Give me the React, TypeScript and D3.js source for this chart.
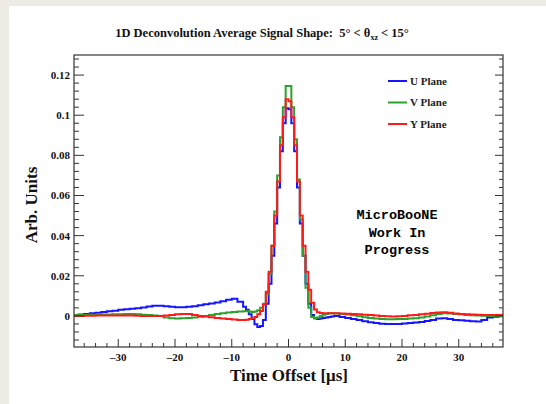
import React from "react";
import * as d3 from "d3";

// ---- data ----
const leftTailEdges = d3.range(-38, -8, 1);
const coreEdges = d3.range(-8, 8, 0.5);
const rightTailEdges = d3.range(8, 38.5, 1);
const binEdges = [...leftTailEdges, ...coreEdges, ...rightTailEdges];

const uPlane = [
  // left tail -37.5 .. -8.5
  0.0005, 0.0007, 0.001, 0.0013, 0.0016, 0.002, 0.0023, 0.0026, 0.003, 0.0033,
  0.0036, 0.0038, 0.0042, 0.0047, 0.005, 0.005, 0.0048, 0.0045, 0.0043, 0.0043,
  0.0045, 0.0048, 0.0053, 0.0058, 0.0062, 0.0067, 0.0073, 0.008, 0.0085, 0.007,
  // core -7.75 .. 7.75
  0.0045, 0.003, 0.0008, -0.0015, -0.0042, -0.0055, -0.005, -0.002,
  0.006, 0.016, 0.03, 0.046, 0.064, 0.082, 0.096, 0.1035,
  0.103, 0.096, 0.082, 0.064, 0.046, 0.03, 0.016, 0.006,
  0.0005, -0.0012, -0.0015, -0.0013, -0.001, -0.0008, -0.0005, -0.0003,
  // right tail 8.5 .. 37.5
  0.0, -0.0005, -0.001, -0.0015, -0.002, -0.0027, -0.0032, -0.0036, -0.0039, -0.004,
  -0.004, -0.004, -0.0038, -0.0036, -0.0033, -0.003, -0.0025, -0.002, -0.0013, -0.0012,
  -0.0016, -0.002, -0.0022, -0.0024, -0.0027, -0.0028, -0.002, -0.0008, -0.0004, -0.0002,
];

const vPlane = [
  0.0005, 0.0005, 0.0005, 0.0006, 0.0006, 0.0007, 0.0007, 0.0008, 0.0008, 0.0009,
  0.001, 0.0008, 0.0006, 0.0004, 0.0002, 0.0, -0.0008, -0.0012, -0.0013, -0.0012,
  -0.001, -0.0008, -0.0004, 0.0, 0.0005, 0.0009, 0.0013, 0.0017, 0.002, 0.0022,
  0.0023, 0.0024, 0.0022, 0.002, 0.0022, 0.0028, 0.004, 0.006,
  0.011, 0.021, 0.035, 0.052, 0.07, 0.089, 0.104, 0.1145,
  0.1145, 0.104, 0.088, 0.068, 0.048, 0.03, 0.014, 0.004,
  -0.0005, -0.0012, -0.0008, 0.0, 0.0006, 0.001, 0.0013, 0.0013,
  0.0012, 0.001, 0.0007, 0.0003, -0.0002, -0.0007, -0.001, -0.0013, -0.0015, -0.0017,
  -0.0017, -0.0016, -0.0015, -0.0013, -0.0012, -0.0008, -0.0003, 0.0003, 0.001, 0.0013,
  0.0012, 0.001, 0.0008, 0.0005, 0.0003, 0.0002, 0.0001, 0.0, 0.0, 0.0,
];

const yPlane = [
  0.0, 0.0, 0.0001, 0.0001, 0.0002, 0.0002, 0.0002, 0.0002, 0.0002, 0.0002,
  0.0002, 0.0001, 0.0, 0.0, 0.0, 0.0, 0.0002, 0.0005, 0.0008, 0.001,
  0.0009, 0.0005, 0.0, -0.0003, -0.0007, -0.001, -0.0013, -0.0016, -0.0018, -0.002,
  -0.002, -0.0019, -0.0016, -0.0012, -0.0005, 0.0008, 0.0025, 0.0055,
  0.012, 0.022, 0.035, 0.05, 0.067, 0.085, 0.099, 0.108,
  0.107, 0.099, 0.085, 0.067, 0.05, 0.035, 0.022, 0.013,
  0.0065, 0.0032, 0.0018, 0.0014, 0.0013, 0.0013, 0.0013, 0.0013,
  0.0013, 0.0012, 0.0011, 0.001, 0.0008, 0.0006, 0.0004, 0.0002, 0.0, -0.0002,
  -0.0003, -0.0002, 0.0, 0.0003, 0.0005, 0.0008, 0.0011, 0.0014, 0.0017, 0.0018,
  0.0016, 0.0012, 0.001, 0.0008, 0.0007, 0.0006, 0.0005, 0.0005, 0.0005, 0.0005,
];

const seriesNames = ["U Plane", "V Plane", "Y Plane"];
const seriesColors = ["#1515ff", "#2ea02e", "#ff1a1a"];
const seriesValues = [uPlane, vPlane, yPlane];

const xMajorTicks = [-30, -20, -10, 0, 10, 20, 30];
const xTickLabels = ["\u201330", "\u201320", "\u201310", "0", "10", "20", "30"];
const yMajorTicks = [0, 0.02, 0.04, 0.06, 0.08, 0.1, 0.12];
const yTickLabels = ["0", "0.02", "0.04", "0.06", "0.08", "0.1", "0.12"];

const W = 546;
const H = 404;
const frame = { left: 74, right: 503, top: 55, bottom: 347 };
const serif = "'Liberation Serif', 'Times New Roman', serif";
const mono = "'Liberation Mono', 'Courier New', monospace";

export default function App() {
  const x = d3.scaleLinear().domain([-37.8, 37.8]).range([frame.left, frame.right]);
  const y = d3.scaleLinear().domain([-0.0155, 0.13]).range([frame.bottom, frame.top]);

  const xMinor = d3.range(-36, 37, 2).filter((t) => t % 10 !== 0);
  const yMinor = d3.range(-0.012, 0.13, 0.004).filter(
    (v) => Math.abs(Math.round(v / 0.02) * 0.02 - v) > 1e-6 && y(v) > frame.top && y(v) < frame.bottom
  );

  const line = d3
    .line<[number, number]>()
    .x((d) => x(d[0]))
    .y((d) => y(d[1]))
    .curve(d3.curveStepAfter);

  const paths = seriesValues.map((vals) => {
    const pts: [number, number][] = vals.map((v, i) => [binEdges[i], v]);
    pts.push([binEdges[vals.length], vals[vals.length - 1]]);
    return line(pts) || "";
  });

  const legendRows = [81, 102.5, 124];

  return (
    <svg width={W} height={H} style={{ position: "absolute", left: 0, top: 0 }}>
      <rect x={0} y={0} width={W} height={H} fill="#eeebe4" />
      <rect x={9} y={6} width={W - 9} height={H - 6} fill="#ffffff" />
      <defs>
        <clipPath id="frameClip">
          <rect x={frame.left} y={frame.top} width={frame.right - frame.left} height={frame.bottom - frame.top} />
        </clipPath>
      </defs>

      {/* title */}
      <text x={262} y={37} textAnchor="middle" fontFamily={serif} fontWeight="bold" fontSize={12.5} fill="#111">
        1D Deconvolution Average Signal Shape:{"\u00a0\u00a0"}5° &lt; θ
        <tspan fontSize={8} dy={3}>xz</tspan>
        <tspan dy={-3}> &lt; 15°</tspan>
      </text>

      {/* curves */}
      <g clipPath="url(#frameClip)">
        {paths.map((p, i) => (
          <path key={i} d={p} fill="none" stroke={seriesColors[i]} strokeWidth={2} strokeLinejoin="miter" />
        ))}
      </g>

      {/* frame */}
      <rect
        x={frame.left}
        y={frame.top}
        width={frame.right - frame.left}
        height={frame.bottom - frame.top}
        fill="none"
        stroke="#333"
        strokeWidth={1.2}
      />

      {/* x ticks */}
      {xMajorTicks.map((t) => (
        <line key={"xM" + t} x1={x(t)} x2={x(t)} y1={frame.bottom} y2={frame.bottom - 8} stroke="#333" strokeWidth={1} />
      ))}
      {xMinor.map((t) => (
        <line key={"xm" + t} x1={x(t)} x2={x(t)} y1={frame.bottom} y2={frame.bottom - 4} stroke="#333" strokeWidth={1} />
      ))}
      {xMajorTicks.map((t, i) => (
        <text key={"xl" + t} x={x(t)} y={361} textAnchor="middle" fontFamily={serif} fontWeight="bold" fontSize={11} fill="#111">
          {xTickLabels[i]}
        </text>
      ))}

      {/* y ticks */}
      {yMajorTicks.map((v) => (
        <g key={"yM" + v}>
          <line x1={frame.left} x2={frame.left + 10} y1={y(v)} y2={y(v)} stroke="#333" strokeWidth={1} />
          <line x1={frame.right} x2={frame.right - 8} y1={y(v)} y2={y(v)} stroke="#333" strokeWidth={1} />
        </g>
      ))}
      {yMinor.map((v) => (
        <g key={"ym" + v}>
          <line x1={frame.left} x2={frame.left + 5} y1={y(v)} y2={y(v)} stroke="#333" strokeWidth={1} />
          <line x1={frame.right} x2={frame.right - 4} y1={y(v)} y2={y(v)} stroke="#333" strokeWidth={1} />
        </g>
      ))}
      {yMajorTicks.map((v, i) => (
        <text key={"yl" + v} x={70} y={y(v) + 4} textAnchor="end" fontFamily={serif} fontWeight="bold" fontSize={11} fill="#111">
          {yTickLabels[i]}
        </text>
      ))}

      {/* axis titles */}
      <text x={289} y={381} textAnchor="middle" fontFamily={serif} fontWeight="bold" fontSize={17} fill="#111">
        Time Offset [μs]
      </text>
      <text
        transform={`translate(37,205) rotate(-90)`}
        textAnchor="middle"
        fontFamily={serif}
        fontWeight="bold"
        fontSize={17}
        fill="#111"
      >
        Arb. Units
      </text>

      {/* legend */}
      {seriesNames.map((n, i) => (
        <g key={n}>
          <line x1={388} x2={407} y1={legendRows[i]} y2={legendRows[i]} stroke={seriesColors[i]} strokeWidth={2} />
          <text x={410} y={legendRows[i] + 3.8} fontFamily={serif} fontWeight="bold" fontSize={11} fill="#222">
            {n}
          </text>
        </g>
      ))}

      {/* label */}
      {["MicroBooNE", "Work In", "Progress"].map((s, i) => (
        <text key={s} x={397} y={219 + i * 17.5} textAnchor="middle" fontFamily={mono} fontWeight="bold" fontSize={13.5} fill="#000">
          {s}
        </text>
      ))}
    </svg>
  );
}
